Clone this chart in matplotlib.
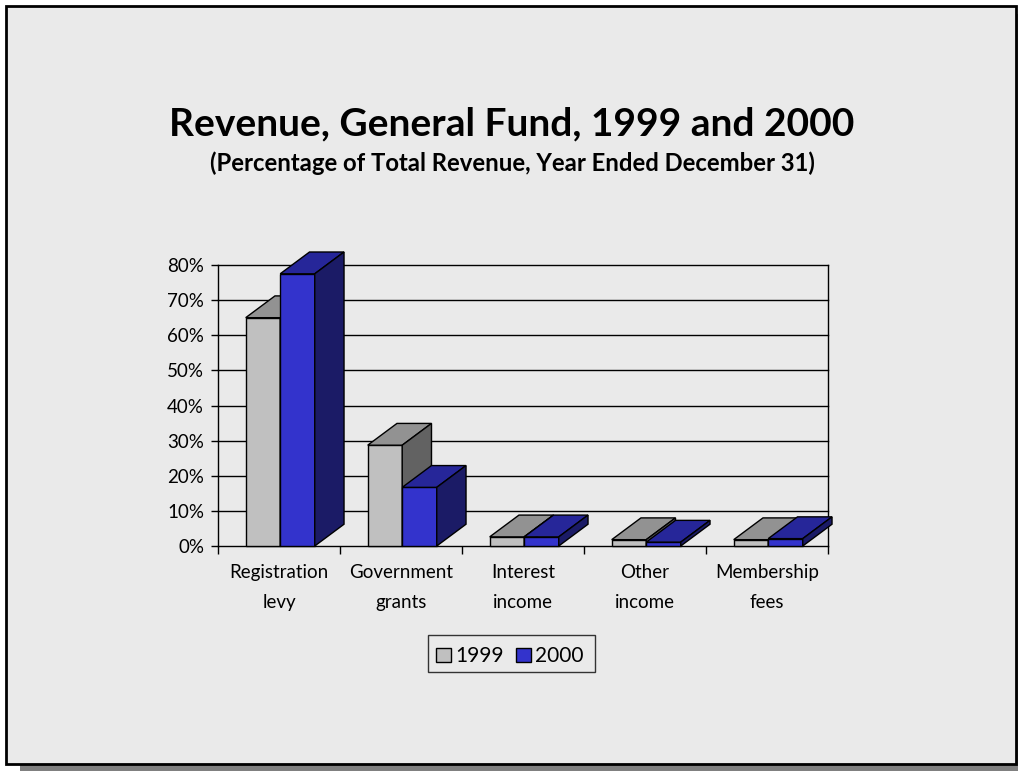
import matplotlib
matplotlib.use("Agg")
import matplotlib.pyplot as plt
from matplotlib.patches import Polygon, Rectangle

categories = ["Registration\nlevy", "Government\ngrants", "Interest\nincome", "Other\nincome", "Membership\nfees"]
years = ["1999", "2000"]
values_1999 = [65.0, 28.7, 2.6, 1.8, 1.8]
values_2000 = [77.5, 16.7, 2.6, 1.1, 2.1]
yticks = [0, 10, 20, 30, 40, 50, 60, 70, 80]

# colours: front, top, side
gray_faces = ("#C0C0C0", "#929292", "#626262")
blue_faces = ("#3333CC", "#262699", "#1B1B66")

W, H = 1018, 771
fig = plt.figure(figsize=(W / 100, H / 100), dpi=100)
fig.patch.set_facecolor("white")

# background panel with drop shadow (pixel coords)
bg = fig.add_axes([0, 0, 1, 1])
bg.set_xlim(0, W)
bg.set_ylim(H, 0)
bg.axis("off")
bg.add_patch(Rectangle((20, 14), 1010, 770, facecolor="#808080", edgecolor="none"))
bg.add_patch(Rectangle((6, 6), 1010, 758, facecolor="#EAEAEA", edgecolor="black", lw=2))

font = "Lato"
bg.text(512, 124, "Revenue, General Fund, 1999 and 2000", ha="center", va="center",
        fontsize=28, fontweight="bold", family=font)
bg.text(512, 163, "(Percentage of Total Revenue, Year Ended December 31)", ha="center", va="center",
        fontsize=17.2, fontweight="bold", family=font)

# chart area
ax = fig.add_axes([218 / W, 1 - 546 / H, 610 / W, 281 / H])
ax.set_facecolor("none")
ax.set_xlim(0, len(categories))
ax.set_ylim(0, 80)
for y in yticks:
    ax.axhline(y, color="black", lw=1, zorder=1, clip_on=False)
for s in ["top", "bottom"]:
    ax.spines[s].set_visible(False)
ax.spines["left"].set_linewidth(1)
ax.spines["right"].set_linewidth(1)

ax.set_yticks(yticks)
ax.set_yticklabels([f"{v}%" for v in yticks], family=font, fontsize=13.5)
ax.set_xticks(range(len(categories) + 1))
ax.set_xticklabels([])
ax.set_xticks([i + 0.5 for i in range(len(categories))], minor=True)
ax.set_xticklabels(categories, minor=True, family=font, fontsize=13.5, linespacing=1.95)
ax.tick_params(axis="x", which="major", direction="out", length=6, width=1)
ax.tick_params(axis="x", which="minor", length=0, pad=13)
ax.tick_params(axis="y", direction="out", length=5, width=1, pad=5)

dx, dy = 0.24, 6.2
bw = 0.283
offsets = [0.227, 0.51]


def bar3d(x0, h, faces):
    front, top, side = faces
    kw = dict(edgecolor="black", lw=1, clip_on=False, zorder=3, joinstyle="miter")
    ax.add_patch(Polygon([(x0, 0), (x0 + bw, 0), (x0 + bw, h), (x0, h)], facecolor=front, **kw))
    ax.add_patch(Polygon([(x0, h), (x0 + bw, h), (x0 + bw + dx, h + dy), (x0 + dx, h + dy)],
                         facecolor=top, **kw))
    ax.add_patch(Polygon([(x0 + bw, 0), (x0 + bw + dx, dy), (x0 + bw + dx, h + dy), (x0 + bw, h)],
                         facecolor=side, **kw))


for i in range(len(categories)):
    bar3d(i + offsets[0], values_1999[i], gray_faces)
    bar3d(i + offsets[1], values_2000[i], blue_faces)

# legend
bg.add_patch(Rectangle((428, 635), 167, 37, facecolor="none", edgecolor="#333333", lw=1))
bg.add_patch(Rectangle((436, 648), 15, 14, facecolor=gray_faces[0], edgecolor="black", lw=1))
bg.text(455, 656, years[0], ha="left", va="center", family=font, fontsize=15)
bg.add_patch(Rectangle((516, 648), 15, 14, facecolor=blue_faces[0], edgecolor="black", lw=1))
bg.text(535, 656, years[1], ha="left", va="center", family=font, fontsize=15)

fig.savefig("out.png", dpi=100, facecolor=fig.get_facecolor())
